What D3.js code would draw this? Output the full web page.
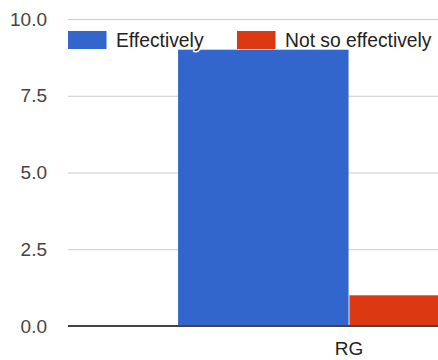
<!DOCTYPE html>
<html>
<head>
<meta charset="utf-8">
<script src="https://cdn.jsdelivr.net/npm/d3@7"></script>
<style>
  html, body { margin: 0; padding: 0; background: #fff; overflow: hidden; }
  svg { display: block; font-family: "Liberation Sans", Arial, sans-serif; }
</style>
</head>
<body>
<svg id="chart" width="438" height="360"></svg>
<script>
const categories = ["RG"];
const seriesNames = ["Effectively", "Not so effectively"];
const effectively = [9];
const notSoEffectively = [1];
const yTicks = [0, 2.5, 5, 7.5, 10];
const colors = ["#3366cc", "#dc3912"];

const svg = d3.select("#chart");
const plotLeft = 68, plotRight = 630, plotTop = 19, plotBottom = 326;

const y = d3.scaleLinear().domain([0, 10]).range([plotBottom, plotTop]);
const x0 = d3.scaleBand().domain(categories).range([plotLeft, plotRight])
  .paddingInner(0).paddingOuter(0.322);
const x1 = d3.scaleBand().domain(seriesNames).range([0, x0.bandwidth()])
  .paddingInner(0.005).paddingOuter(0);

// gridlines
const yAxis = d3.axisLeft(y).tickValues(yTicks)
  .tickFormat(d3.format(".1f"))
  .tickSize(-(plotRight - plotLeft)).tickPadding(21);
const gy = svg.append("g").attr("transform", `translate(${plotLeft},0)`).call(yAxis);
gy.select(".domain").remove();
gy.selectAll(".tick line").attr("stroke", "#cccccc").attr("stroke-width", 1);
gy.selectAll(".tick text").attr("fill", "#444").attr("font-size", "19px")
  .attr("font-family", "'Liberation Sans', Arial, sans-serif");

// bars
const data = categories.map((c, i) => ({
  cat: c,
  vals: [
    { s: seriesNames[0], v: effectively[i] },
    { s: seriesNames[1], v: notSoEffectively[i] }
  ]
}));
const g = svg.append("g");
g.selectAll("g.cat").data(data).join("g")
  .attr("class", "cat")
  .attr("transform", d => `translate(${x0(d.cat)},0)`)
  .selectAll("rect").data(d => d.vals).join("rect")
  .attr("x", d => x1(d.s))
  .attr("width", x1.bandwidth())
  .attr("y", d => y(d.v))
  .attr("height", d => y(0) - y(d.v))
  .attr("fill", (d, i) => colors[i]);

// baseline
svg.append("line")
  .attr("x1", plotLeft).attr("x2", plotRight)
  .attr("y1", y(0)).attr("y2", y(0))
  .attr("stroke", "#444").attr("stroke-width", 2);

// x axis labels
const xAxis = d3.axisBottom(x0).tickSize(0).tickPadding(16);
const gx = svg.append("g").attr("transform", `translate(0,${plotBottom})`).call(xAxis);
gx.select(".domain").remove();
gx.selectAll(".tick text").attr("fill", "#222").attr("font-size", "19px")
  .attr("font-family", "'Liberation Sans', Arial, sans-serif");

// legend
const legendX = [68, 237];
const leg = svg.append("g");
seriesNames.forEach((s, i) => {
  leg.append("rect").attr("x", legendX[i]).attr("y", 31)
    .attr("width", 38.5).attr("height", 18).attr("fill", colors[i]);
  leg.append("text").attr("x", legendX[i] + 48).attr("y", 46.5)
    .attr("font-size", "19.3px").attr("fill", "#222")
    .attr("stroke", "#fff").attr("stroke-width", 3)
    .attr("paint-order", "stroke")
    .text(s);
});
</script>
</body>
</html>
